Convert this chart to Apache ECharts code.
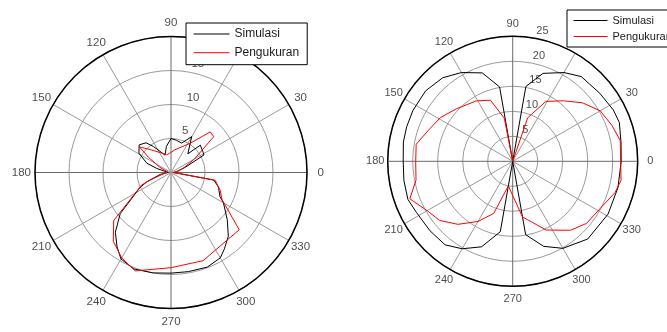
<!DOCTYPE html>
<html>
<head>
<meta charset="utf-8">
<script src="https://cdn.jsdelivr.net/npm/echarts@6/dist/echarts.min.js"></script>
<style>
  html, body { margin: 0; padding: 0; background: #fff; }
  #chart { width: 667px; height: 332px; }
</style>
</head>
<body>
<div id="chart"></div>
<script>
// Angle labels (degrees) shared by both polar plots
const angleTicks = [0, 30, 60, 90, 120, 150, 180, 210, 240, 270, 300, 330];
const leftRadiusTicks = [5, 10, 15, 20];
const rightRadiusTicks = [5, 10, 15, 20, 25];
const leftRadiusMax = 20;
const rightRadiusMax = 25;

// Left pattern: [angle in degrees, magnitude]
const leftSimulasi = [
  [0, 0.4], [10, 0.9], [20, 2.2], [28, 5.5], [33, 5.6], [43, 5.9], [48, 3.7],
  [60, 6.1], [70, 4.6], [80, 4.8], [90, 5.0], [100, 3.9], [109, 2.7], [124, 4.6],
  [130, 5.7], [139, 6.2], [149, 5.5], [159, 3.8], [164, 2.2], [180, 0.4],
  [190, 1.6], [201, 3.8], [206, 5.1], [219, 9.6], [227, 12.0], [234, 13.5],
  [240, 14.7], [249, 15.2], [260, 15.0], [270, 14.8], [280, 14.8], [291, 14.9],
  [300, 14.5], [305, 13.7], [312, 12.6], [320, 10.8], [330, 8.9], [334, 8.0],
  [343, 7.3], [350, 6.4], [360, 0.4]
];
const leftPengukuran = [
  [0, 0.3], [10, 1.0], [20, 2.0], [30, 4.0], [40, 8.2], [46, 8.3], [57, 5.1],
  [80, 3.4], [95, 2.8], [104, 2.7], [112, 3.0], [131, 4.4], [141, 6.0],
  [146, 4.0], [155, 1.8], [170, 0.5], [185, 0.4], [200, 3.3], [203, 4.7],
  [220, 11.0], [230, 13.2], [240, 14.5], [250, 15.4], [270, 14.0], [290, 13.8],
  [320, 13.1], [330, 9.0], [332, 8.5], [340, 7.7], [350, 6.6], [360, 0.3]
];

// Right pattern: [angle in degrees, magnitude]
const rightSimulasi = [
  [0, 21.7], [10, 22.0], [20, 22.7], [27, 22.6], [38, 22.1], [51, 21.8],
  [60, 20.5], [71, 18.6], [80, 15.2], [90, 0], [100, 15.1], [109, 18.7],
  [120, 20.5], [130, 21.8], [141, 22.4], [153, 22.4], [162, 22.3], [170, 22.2],
  [180, 21.9], [190, 22.1], [200, 22.3], [208, 21.8], [220, 21.6], [231, 21.5],
  [240, 20.2], [250, 18.2], [260, 14.3], [270, 0], [280, 14.9], [290, 18.1],
  [300, 20.1], [314, 21.6], [331, 21.8], [346, 21.7], [360, 21.7]
];
const rightPengukuran = [
  [0, 21.6], [11, 21.9], [20, 21.1], [30, 20.2], [40, 18.2], [50, 15.8],
  [61, 13.7], [71, 9.2], [90, 0], [101, 8.8], [110, 13.0], [121, 14.1],
  [137, 15.4], [149, 16.9], [160, 18.0], [170, 19.6], [180, 19.4], [191, 19.7],
  [200, 21.9], [211, 19.6], [219, 18.8], [229, 16.7], [240, 13.9], [250, 11.1],
  [260, 5.0], [280, 11.3], [296, 15.3], [310, 18.0], [320, 19.3], [333, 20.0],
  [343, 21.4], [350, 22.0], [360, 21.6]
];

const seriesNames = ['Simulasi', 'Pengukuran'];
const FONT = '"Liberation Sans", Arial, sans-serif';
const TEXT = '#1a1a1a';

// ECharts polar data order is [radius, angle]
const toPolar = pts => pts.map(p => [p[1], p[0]]);

function angleAxis(idx) {
  return {
    polarIndex: idx, type: 'value', min: 0, max: 360, interval: 30,
    startAngle: 0, clockwise: false, z: 1,
    axisLine: { show: true, lineStyle: { color: '#000', width: 1.5 } },
    axisTick: { show: false },
    axisLabel: { show: false },
    splitLine: { show: true, lineStyle: { color: ['#6a6a6a', '#9a9a9a', '#9a9a9a'], width: 1 } }
  };
}
function radiusAxis(idx, max) {
  return {
    polarIndex: idx, type: 'value', min: 0, max: max, interval: 5, z: 0,
    axisLine: { show: false }, axisTick: { show: false }, axisLabel: { show: false },
    splitLine: { show: true, lineStyle: { color: '#9a9a9a', width: 1 } }
  };
}
function patternLine(idx, name, pts, color) {
  return {
    type: 'line', name: name, coordinateSystem: 'polar', polarIndex: idx,
    data: toPolar(pts), symbol: 'none', smooth: false, z: 3,
    lineStyle: { color: color, width: 1 }, itemStyle: { color: color }
  };
}
// Angle labels sit at 1.1 x the outer radius, centred
function angleLabels(idx, rmax, size) {
  return {
    type: 'scatter', coordinateSystem: 'polar', polarIndex: idx, clip: false,
    silent: true, symbolSize: 0, z: 2,
    data: angleTicks.map(a => [rmax * 1.1, a]),
    label: {
      show: true, position: 'inside', align: 'center', verticalAlign: 'middle',
      formatter: p => String(p.value[1]), color: TEXT, fontSize: size, fontFamily: FONT
    }
  };
}
// Ring labels along the 82 degree direction
function ringLabels(idx, ticks, size) {
  return {
    type: 'scatter', coordinateSystem: 'polar', polarIndex: idx, clip: false,
    silent: true, symbolSize: 0, z: 2,
    data: ticks.map(r => [r + 0.25, 82]),
    label: {
      show: true, position: [6, 0], align: 'left', verticalAlign: 'bottom',
      formatter: p => String(Math.round(p.value[0] - 0.25)), color: TEXT, fontSize: size, fontFamily: FONT
    }
  };
}
function legendBox(left, top, itemWidth, itemGap, padding, fontSize) {
  return {
    left: left, top: top, orient: 'vertical', data: seriesNames, selectedMode: false,
    itemWidth: itemWidth, itemHeight: 10, itemGap: itemGap, padding: padding,
    borderColor: '#000', borderWidth: 1, backgroundColor: '#fff', borderRadius: 0,
    itemStyle: { opacity: 0, borderWidth: 0 },
    lineStyle: { width: 1 },
    textStyle: { fontSize: fontSize, color: TEXT, fontFamily: FONT }
  };
}

const chart = echarts.init(document.getElementById('chart'), null, { renderer: 'canvas' });
chart.setOption({
  backgroundColor: '#fff',
  animation: false,
  polar: [
    { center: [171, 172.5], radius: 136 },
    { center: [512.7, 161.3], radius: 125 }
  ],
  angleAxis: [angleAxis(0), angleAxis(1)],
  radiusAxis: [radiusAxis(0, leftRadiusMax), radiusAxis(1, rightRadiusMax)],
  legend: [
    legendBox(186, 23, 36, 6.7, [5, 8, 6, 7], 12),
    legendBox(567, 10, 34, 5, [5, 8, 5, 6], 11)
  ],
  series: [
    patternLine(0, 'Simulasi', leftSimulasi, '#000'),
    patternLine(0, 'Pengukuran', leftPengukuran, '#ff0000'),
    patternLine(1, 'Simulasi', rightSimulasi, '#000'),
    patternLine(1, 'Pengukuran', rightPengukuran, '#ff0000'),
    angleLabels(0, leftRadiusMax, 11.5),
    angleLabels(1, rightRadiusMax, 11),
    ringLabels(0, leftRadiusTicks, 11.5),
    ringLabels(1, rightRadiusTicks, 11)
  ]
});
</script>
</body>
</html>
